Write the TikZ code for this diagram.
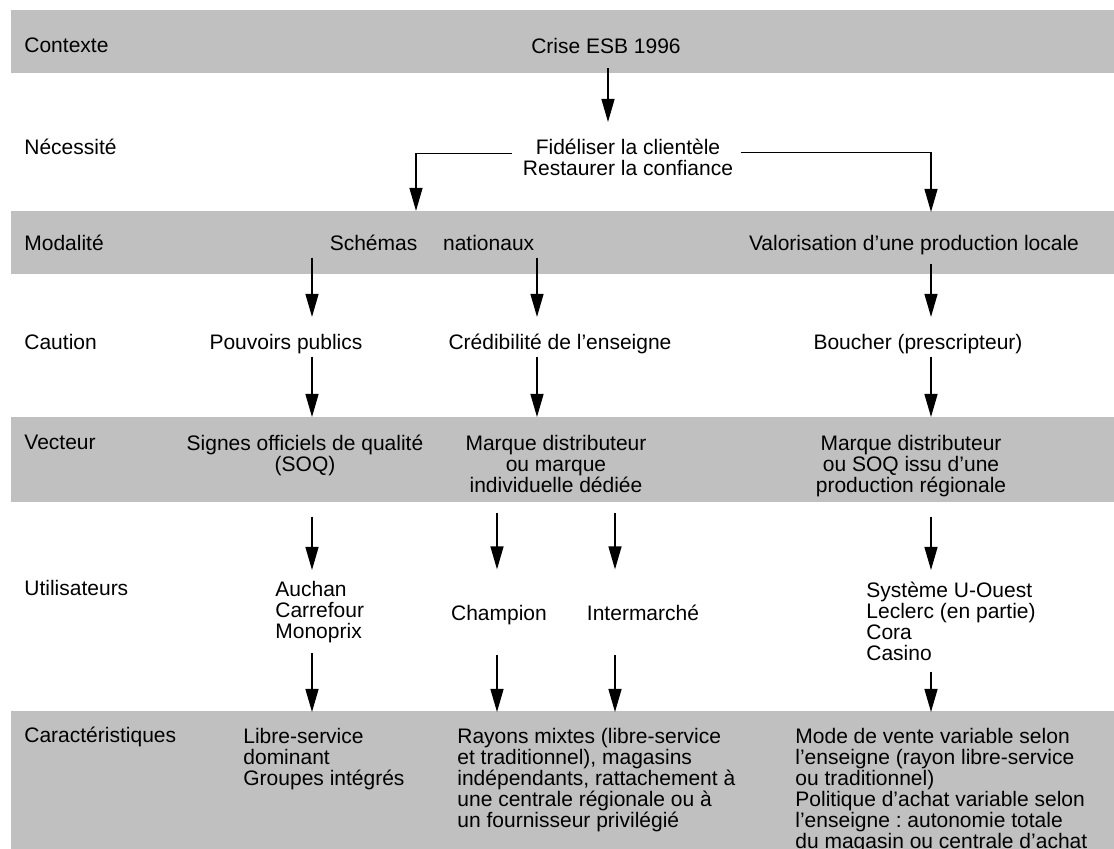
\documentclass[tikz,border=0pt]{standalone}
\usepackage{fontspec}
\setmainfont{Liberation Sans}
\usepackage{tikz}
\usetikzlibrary{arrows.meta}
\definecolor{bande}{RGB}{192,192,192}
\newcommand\police{\fontsize{10.5}{10.5}\selectfont\lineskiplimit=-10pt\relax}
\frenchspacing

\begin{document}
\begin{tikzpicture}[x=0.5pt, y=-0.5pt,
  every node/.style={inner sep=0pt, font=\police},
  etiq/.style={anchor=base west, text height=7.35pt, text depth=3.15pt},
  ligne/.style={anchor=base, text height=7.35pt, text depth=3.15pt},
  bloc/.style={anchor=north, align=center},
  liste/.style={anchor=north west, align=left},
  fleche/.style={-{Triangle[length=11.5pt, width=6.5pt]}, line width=0.65pt}]
  \useasboundingbox (0,0) rectangle (1114,849);

  % bandes grises
  \fill[bande] (11,10) rectangle (1114,73);
  \fill[bande] (11,211) rectangle (1114,274);
  \fill[bande] (11,417) rectangle (1114,502);
  \fill[bande] (11,711) rectangle (1114,849);

  % colonne de gauche
  \node[etiq] (ctx) at (24,53) {Contexte};
  \node[etiq] (nec) at (24,155) {Nécessité};
  \node[etiq] (mod) at (24,251) {Modalité};
  \node[etiq] (cau) at (24,350) {Caution};
  \node[etiq] (vec) at (24,449.5) {Vecteur};
  \node[etiq] (uti) at (24,595.5) {Utilisateurs};
  \node[etiq] (car) at (24,742.5) {Caractéristiques};

  % contenu
  \node[ligne] (crise) at (606,54) {Crise ESB 1996};
  \node[bloc] (fidel) at (628,139) {\strut Fidéliser la clientèle\\Restaurer la confiance\strut};
  \node[ligne] (schemas) at (432,251) {Schémas\hspace{10pt} nationaux};
  \node[ligne] (valor) at (914,251) {Valorisation d’une production locale};
  \node[ligne] (pouv) at (286,350) {Pouvoirs publics};
  \node[ligne] (cred) at (560,350) {Crédibilité de l’enseigne};
  \node[ligne] (bouch) at (918,350) {Boucher (prescripteur)};
  \node[bloc] (signes) at (305,435) {\strut Signes officiels de qualité\\(SOQ)\strut};
  \node[bloc] (marque) at (556,435) {\strut Marque distributeur\\ou marque\\individuelle dédiée\strut};
  \node[bloc] (marque2) at (911,435) {\strut Marque distributeur\\ou SOQ issu d’une\\production régionale\strut};
  \node[liste] (auchan) at (275,581) {\strut Auchan\\Carrefour\\Monoprix\strut};
  \node[ligne] (champ) at (499,620.5) {Champion};
  \node[ligne] (inter) at (643,620.5) {Intermarché};
  \node[liste] (sysu) at (866,582) {\strut Système U-Ouest\\Leclerc (en partie)\\Cora\\Casino\strut};
  \node[liste] (libre) at (243,728) {\strut Libre-service\\dominant\\Groupes intégrés\strut};
  \node[liste] (rayons) at (457,728) {\strut Rayons mixtes (libre-service\\et traditionnel), magasins\\indépendants, rattachement à\\une centrale régionale ou à\\un fournisseur privilégié\strut};
  \node[liste] (mode) at (795,728) {\strut Mode de vente variable selon\\l’enseigne (rayon libre-service\\ou traditionnel)\\Politique d’achat variable selon\\l’enseigne : autonomie totale\\du magasin ou centrale d’achat\strut};

  % colonnes des fleches
  \coordinate (colK) at (608,0);
  \coordinate (colG) at (416,0);
  \coordinate (colA) at (312,0);
  \coordinate (colB) at (497,0);
  \coordinate (colC) at (537,0);
  \coordinate (colD) at (615,0);
  \coordinate (colE) at (931,0);

  % fleches
  \draw[fleche, shorten <=3.9pt, shorten >=8.5pt] (crise.south -| colK) -- (fidel.north -| colK);
  \draw[fleche, shorten <=5.5pt, shorten >=12.5pt] ([yshift=3.5pt]fidel.west) -| (schemas.north -| colG);
  \draw[fleche, shorten <=3.75pt, shorten >=12pt] ([yshift=4pt]fidel.east) -| (valor.north -| colE);

  \draw[fleche, shorten >=9pt] (schemas.south -| colA) -- (pouv.north -| colA);
  \draw[fleche, shorten >=9pt] (schemas.south -| colC) -- (cred.north -| colC);
  \draw[fleche, shorten <=3.4pt, shorten >=9pt] (valor.south -| colE) -- (bouch.north -| colE);

  \draw[fleche, shorten >=9pt] (pouv.south -| colA) -- (signes.north -| colA);
  \draw[fleche, shorten >=9pt] (cred.south -| colC) -- (marque.north -| colC);
  \draw[fleche, shorten >=9pt] (bouch.south -| colE) -- (marque2.north -| colE);

  \draw[fleche, shorten <=19pt, shorten >=5.5pt] (signes.south -| colA) -- (auchan.north -| colA);
  \draw[fleche, shorten <=7pt, shorten >=18pt] (marque.south -| colB) -- (champ.north -| colB);
  \draw[fleche, shorten <=7pt, shorten >=18pt] (marque.south -| colD) -- (inter.north -| colD);
  \draw[fleche, shorten <=8.6pt, shorten >=6pt] (marque2.south -| colE) -- (sysu.north -| colE);

  \draw[fleche, shorten <=4pt, shorten >=8pt] (auchan.south -| colA) -- (libre.north -| colA);
  \draw[fleche, shorten <=14pt, shorten >=8pt] (champ.south -| colB) -- (rayons.north -| colB);
  \draw[fleche, shorten <=14pt, shorten >=8pt] (inter.south -| colD) -- (rayons.north -| colD);
  \draw[fleche, shorten <=2pt, shorten >=8pt] (sysu.south -| colE) -- (mode.north -| colE);
\end{tikzpicture}
\end{document}
